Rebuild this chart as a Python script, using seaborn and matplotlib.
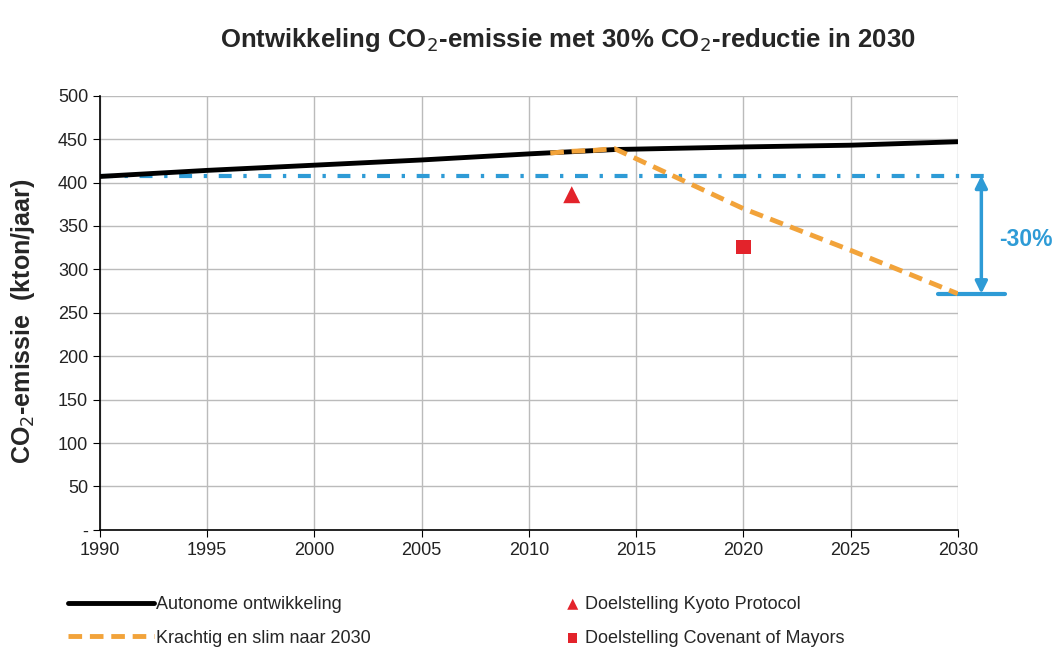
import matplotlib
matplotlib.use("Agg")
import matplotlib.pyplot as plt
import seaborn as sns
import pandas as pd

# autonome ontwikkeling (kton/jaar)
auto_years = [1990, 1995, 2000, 2005, 2010, 2014, 2020, 2025, 2030]
auto_values = [407, 414, 420, 426, 433, 438, 441, 443, 447]

# krachtig en slim naar 2030
slim_years = [2011, 2012, 2013, 2014, 2020, 2025, 2030]
slim_values = [434, 436, 437, 439, 370, 322, 272]

# referentieniveau 1990 en doel 2030
ref_years = [1990, 2031.5]
ref_values = [408, 408]
target_2030 = 272

kyoto_year, kyoto_value = [2012], [386]
com_year, com_value = [2020], [326]

sns.set_style("white")
plt.rcParams['font.family'] = ['Liberation Sans', 'DejaVu Sans']

fig = plt.figure(figsize=(10.59, 6.51), dpi=100)
ax = fig.add_axes([0.0944, 0.186, 0.810, 0.667])

auto = pd.DataFrame({'jaar': auto_years, 'emissie': auto_values})
slim = pd.DataFrame({'jaar': slim_years, 'emissie': slim_values})
ref = pd.DataFrame({'jaar': ref_years, 'emissie': ref_values})

sns.lineplot(data=ref, x='jaar', y='emissie', ax=ax, color='#2E9BD6', lw=3,
             linestyle=(0, (3.1, 2.8, 0.8, 2.8)), clip_on=False, zorder=2)
sns.lineplot(data=auto, x='jaar', y='emissie', ax=ax, color='black', lw=3.5,
             label='Autonome ontwikkeling', zorder=3)
sns.lineplot(data=slim, x='jaar', y='emissie', ax=ax, color='#F2A33A', lw=3.5,
             linestyle=(0, (2.8, 1.6)), label='Krachtig en slim naar 2030', zorder=4)
sns.scatterplot(x=kyoto_year, y=kyoto_value, ax=ax, marker='^', s=150,
                color='#E3232B', edgecolor='none', label='Doelstelling Kyoto Protocol', zorder=5)
sns.scatterplot(x=com_year, y=com_value, ax=ax, marker='s', s=110,
                color='#E3232B', edgecolor='none', label='Doelstelling Covenant of Mayors', zorder=5)

# -30% pijl
ax.annotate('', xy=(2031.1, target_2030), xytext=(2031.1, ref_values[0]),
            arrowprops=dict(arrowstyle='<|-|>', color='#2E9BD6', lw=2.5,
                            mutation_scale=18, shrinkA=0, shrinkB=0),
            annotation_clip=False)
ax.plot([2029.1, 2032.2], [target_2030, target_2030], color='#2E9BD6', lw=3,
        clip_on=False)
ax.text(2031.95, 334, '-30%', color='#2E9BD6', fontsize=16.5, fontweight='bold',
        va='center', ha='left', clip_on=False)

ax.set_xlim(1990, 2030)
ax.set_ylim(0, 500)
ax.set_xticks(range(1990, 2031, 5))
ax.set_yticks(range(0, 501, 50))
ax.set_yticklabels(['-'] + [str(v) for v in range(50, 501, 50)])
ax.tick_params(labelsize=13, colors='#222222', length=5, direction='out')
ax.tick_params(axis='both', which='both', left=True, bottom=True, color='black')
ax.grid(True, color='#BBBBBB', lw=1)
for s in ['top', 'right']:
    ax.spines[s].set_visible(False)
for s in ['left', 'bottom']:
    ax.spines[s].set_color('black')
    ax.spines[s].set_linewidth(1.2)

ax.set_xlabel('')
ax.set_ylabel('CO$_2$-emissie  (kton/jaar)', fontsize=18, fontweight='bold')
ax.yaxis.set_label_coords(-0.073, 0.48)
fig.text(0.536, 0.939, 'Ontwikkeling CO$_2$-emissie met 30% CO$_2$-reductie in 2030',
         ha='center', va='center', fontsize=18.5, fontweight='bold')

handles, labels = ax.get_legend_handles_labels()
ax.get_legend().remove()
leg1 = fig.legend(handles[:2], labels[:2], loc='upper left',
                  bbox_to_anchor=(0.064, 0.0845), frameon=False, fontsize=13,
                  handlelength=4.8, handletextpad=0.1, labelspacing=0.93,
                  borderpad=0, borderaxespad=0)
leg2 = fig.legend(handles[2:], labels[2:], loc='upper left',
                  bbox_to_anchor=(0.534, 0.0845), frameon=False, fontsize=13,
                  handlelength=0.8, handletextpad=0.3, labelspacing=0.93,
                  markerscale=0.65, borderpad=0, borderaxespad=0)

fig.savefig('out.png', dpi=100)
